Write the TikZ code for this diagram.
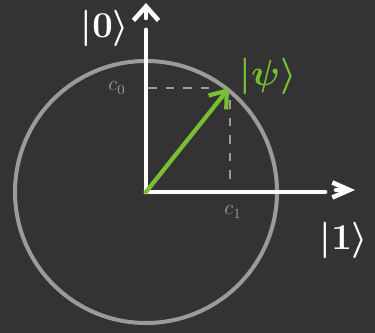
\documentclass[tikz,border=0pt]{standalone}
\usepackage{tikz}
\usepackage{xcolor}
\usetikzlibrary{arrows.meta}
\definecolor{bgdark}{RGB}{51,51,51}
\definecolor{circlegray}{RGB}{155,155,155}
\definecolor{qgreen}{RGB}{122,190,52}

\begin{document}
\begin{tikzpicture}[x=0.02cm,y=-0.02cm,
    axis/.style={draw=white,line width=2.8pt,line cap=round},
    chevron/.style={draw=white,line width=2.6pt,line cap=round,line join=round},
    unitcircle/.style={draw=circlegray,line width=2.3pt},
    statearrow/.style={-{Straight Barb[length=0.3cm,width=0.45cm]},draw=qgreen,line width=2.4pt,line cap=round},
    proj/.style={draw=circlegray,line width=1.1pt,dash pattern=on 5pt off 5pt},
    ketlabel/.style={font=\fontsize{20}{24}\selectfont\boldmath,text=white},
    amp/.style={font=\large,text=circlegray}
  ]
    \useasboundingbox[fill=bgdark] (0,0) rectangle (375,333);

    \coordinate (o) at (146,192);
    \coordinate (yline) at (146,30);
    \coordinate (ygap) at (146,18);
    \coordinate (ytop) at (146,3);
    \coordinate (xline) at (325,192);
    \coordinate (xgap) at (336,190);
    \coordinate (xend) at (355,190);
    \coordinate (psi) at (229,88);
    \coordinate (dashh) at (148,88);
    \coordinate (dashhend) at (214,88);
    \coordinate (dashv) at (230,100);
    \coordinate (dashvend) at (230,180);

    \draw[unitcircle] (o) circle[radius=131];

    % axes, with their heads set apart
    \draw[axis] (o) -- (yline);
    \draw[chevron,-{Straight Barb[length=0.28cm,width=0.5cm]}] (ygap) -- (ytop);
    \draw[axis] (o) -- (xline);
    \draw[chevron,-{Straight Barb[length=0.34cm,width=0.3cm]}] (xgap) -- (xend);

    \draw[proj] (dashh) -- (dashhend);
    \draw[proj] (dashv) -- (dashvend);
    \draw[statearrow] (o) -- (psi);

    \node[ketlabel] (ket0) at (105,28) {$|0\rangle$};
    \node[ketlabel] (ket1) at (344,240) {$|1\rangle$};
    \node[ketlabel,text=qgreen] (ketpsi) at (268,76) {$|\psi\rangle$};
    \node[amp] (c0) at (117,88) {$c_0$};
    \node[amp] (c1) at (233,212) {$c_1$};
  \end{tikzpicture}
\end{document}
